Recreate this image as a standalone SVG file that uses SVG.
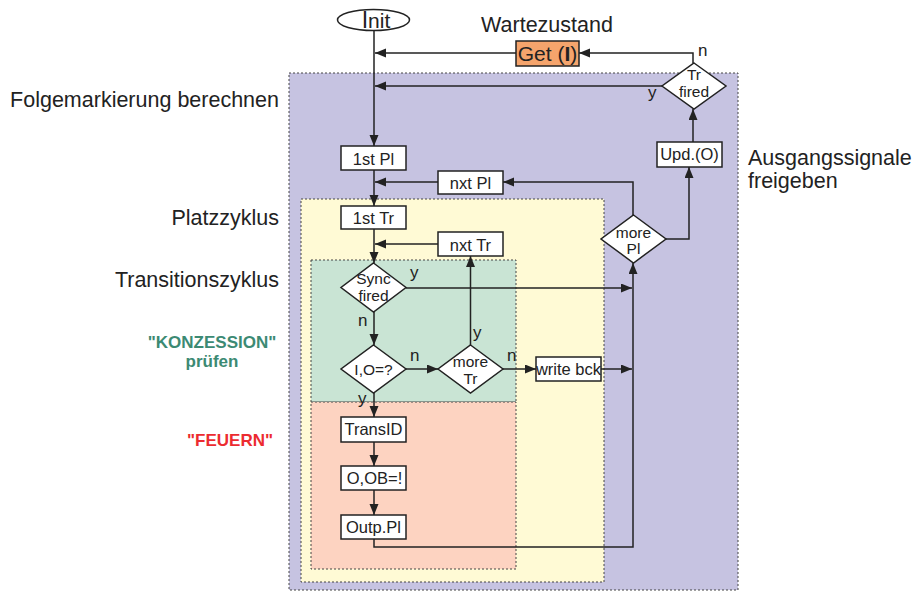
<svg xmlns="http://www.w3.org/2000/svg" width="914" height="592" viewBox="0 0 914 592">
<style>
.t{font-family:"Liberation Sans",Arial,sans-serif;fill:#222}
.lbl{font-size:21.5px;fill:#222}
.bx{fill:#fff;stroke:#222;stroke-width:1.5}
.bt{font-size:16.5px;text-anchor:middle}
.dt{font-size:15.5px;text-anchor:middle}
.yn{font-size:17px}
.c{fill:none;stroke:#222;stroke-width:1.5;marker-end:url(#ah)}
.zone{stroke:#444;stroke-width:1;stroke-dasharray:2,2}
</style>
<defs>
<marker id="ah" markerUnits="userSpaceOnUse" markerWidth="12" markerHeight="10" refX="11" refY="4.5" orient="auto">
<path d="M0,0 L11,4.5 L0,9 z" fill="#222"/>
</marker>
</defs>
<rect width="914" height="592" fill="#fff"/>
<g id="zones">
<rect class="zone" x="289" y="73" width="449" height="517" fill="#C6C3E1"/>
<rect class="zone" x="301" y="199" width="303" height="383" fill="#FFFAD5"/>
<rect class="zone" x="311" y="260" width="205" height="142" fill="#C9E4D4"/>
<rect class="zone" x="311" y="402" width="205" height="167" fill="#FDD3C1"/>
</g>
<g id="labels">
<text class="t lbl" x="547" y="32" text-anchor="middle">Wartezustand</text>
<text class="t lbl" x="279" y="107" text-anchor="end">Folgemarkierung berechnen</text>
<text class="t lbl" x="279" y="225" text-anchor="end">Platzzyklus</text>
<text class="t lbl" x="279" y="287" text-anchor="end">Transitionszyklus</text>
<text class="t lbl" x="748" y="165">Ausgangssignale</text>
<text class="t lbl" x="748" y="188">freigeben</text>
<text class="t" x="212" y="348" text-anchor="middle" font-size="17" font-weight="bold" style="fill:#3C8A73">"KONZESSION"</text>
<text class="t" x="212" y="367" text-anchor="middle" font-size="17" font-weight="bold" style="fill:#3C8A73">prüfen</text>
<text class="t" x="230" y="446" text-anchor="middle" font-size="17" font-weight="bold" style="fill:#EC2B30">"FEUERN"</text>
</g>
<g id="connectors">
<path class="c" d="M374,30 V146"/>
<path class="c" d="M693,63 V53 H579"/>
<path class="c" d="M516,53 H375"/>
<path class="c" d="M662,86 H375"/>
<path class="c" d="M693,142 V109"/>
<path class="c" d="M666,239 H689 V167"/>
<path class="c" d="M633,215 V182 H503"/>
<path class="c" d="M438,182 H375"/>
<path class="c" d="M374,170 V206"/>
<path class="c" d="M374,229 V263"/>
<path class="c" d="M438,244 H375"/>
<path class="c" d="M406,288 H632"/>
<path class="c" d="M374,312 V345"/>
<path class="c" d="M406,369 H438"/>
<path class="c" d="M470.5,345 V256"/>
<path class="c" d="M503,369 H536"/>
<path class="c" d="M601,369 H632"/>
<path class="c" d="M374,393 V417"/>
<path class="c" d="M374,442 V466"/>
<path class="c" d="M374,490 V515"/>
<path class="c" d="M374,539 V547 H633 V263"/>
</g>
<g id="yn">
<text class="t yn" x="698" y="56">n</text>
<text class="t yn" x="648" y="98">y</text>
<text class="t yn" x="410" y="278">y</text>
<text class="t yn" x="358" y="326">n</text>
<text class="t yn" x="410" y="361">n</text>
<text class="t yn" x="473" y="338">y</text>
<text class="t yn" x="507" y="361">n</text>
<text class="t yn" x="358" y="404">y</text>
</g>
<g id="init">
<ellipse cx="373.5" cy="20" rx="36" ry="10.5" fill="#fff" stroke="#222" stroke-width="1.5"/>
<text class="t" x="376" y="28" font-size="21" text-anchor="middle"><tspan font-size="23">I</tspan>nit</text>
</g>
<g id="get">
<rect x="516" y="41" width="63" height="25" fill="#F5A46C" stroke="#222" stroke-width="1.5"/>
<text class="t" x="547.5" y="61" font-size="21" text-anchor="middle">Get (<tspan font-weight="bold">I</tspan>)</text>
</g>
<g id="trfired">
<polygon class="bx" points="694,63 726,86 694,109 662,86"/>
<text class="t dt" x="694" y="80" font-size="14.5">Tr</text>
<text class="t dt" x="694" y="97" font-size="14.5">fired</text>
</g>
<g id="upd">
<rect class="bx" x="657" y="142" width="65" height="25"/>
<text class="t bt" x="689.5" y="159.5" font-size="15.5">Upd.(O)</text>
</g>
<g id="morepl">
<polygon class="bx" points="633.5,215 666,239 633.5,263 601,239"/>
<text class="t dt" x="633.5" y="238">more</text>
<text class="t dt" x="633.5" y="254">Pl</text>
</g>
<g id="nxtpl">
<rect class="bx" x="438" y="171" width="65" height="23"/>
<text class="t bt" x="470.5" y="188.5">nxt Pl</text>
</g>
<g id="firstpl">
<rect class="bx" x="341" y="146" width="65" height="24"/>
<text class="t bt" x="373.5" y="164.5">1st Pl</text>
</g>
<g id="firsttr">
<rect class="bx" x="341" y="206" width="65" height="23"/>
<text class="t bt" x="373.5" y="223.5">1st Tr</text>
</g>
<g id="nxttr">
<rect class="bx" x="438" y="232" width="65" height="24"/>
<text class="t bt" x="470.5" y="250.5">nxt Tr</text>
</g>
<g id="sync">
<polygon class="bx" points="373.5,263 406,287.5 373.5,312 341,287.5"/>
<text class="t dt" x="373.5" y="284">Sync</text>
<text class="t dt" x="373.5" y="300.5">fired</text>
</g>
<g id="io">
<polygon class="bx" points="373.5,345 406,369 373.5,393 341,369"/>
<text class="t dt" x="373.5" y="375" font-size="16">I,O=?</text>
</g>
<g id="moretr">
<polygon class="bx" points="470.5,345 503,369 470.5,393 438,369"/>
<text class="t dt" x="470.5" y="366.5">more</text>
<text class="t dt" x="470.5" y="383.5">Tr</text>
</g>
<g id="writebck">
<rect class="bx" x="536" y="357" width="65" height="24"/>
<text class="t bt" x="568.5" y="374.5" font-size="15.5">write bck</text>
</g>
<g id="transid">
<rect class="bx" x="341" y="417" width="65" height="25"/>
<text class="t bt" x="373.5" y="435" font-size="16">TransID</text>
</g>
<g id="ooob">
<rect class="bx" x="341" y="466" width="65" height="24"/>
<text class="t bt" x="374.5" y="483.5" font-size="16">O,OB=!</text>
</g>
<g id="outppl">
<rect class="bx" x="341" y="515" width="65" height="24"/>
<text class="t bt" x="373.5" y="532.5" font-size="16">Outp.Pl</text>
</g>
</svg>
